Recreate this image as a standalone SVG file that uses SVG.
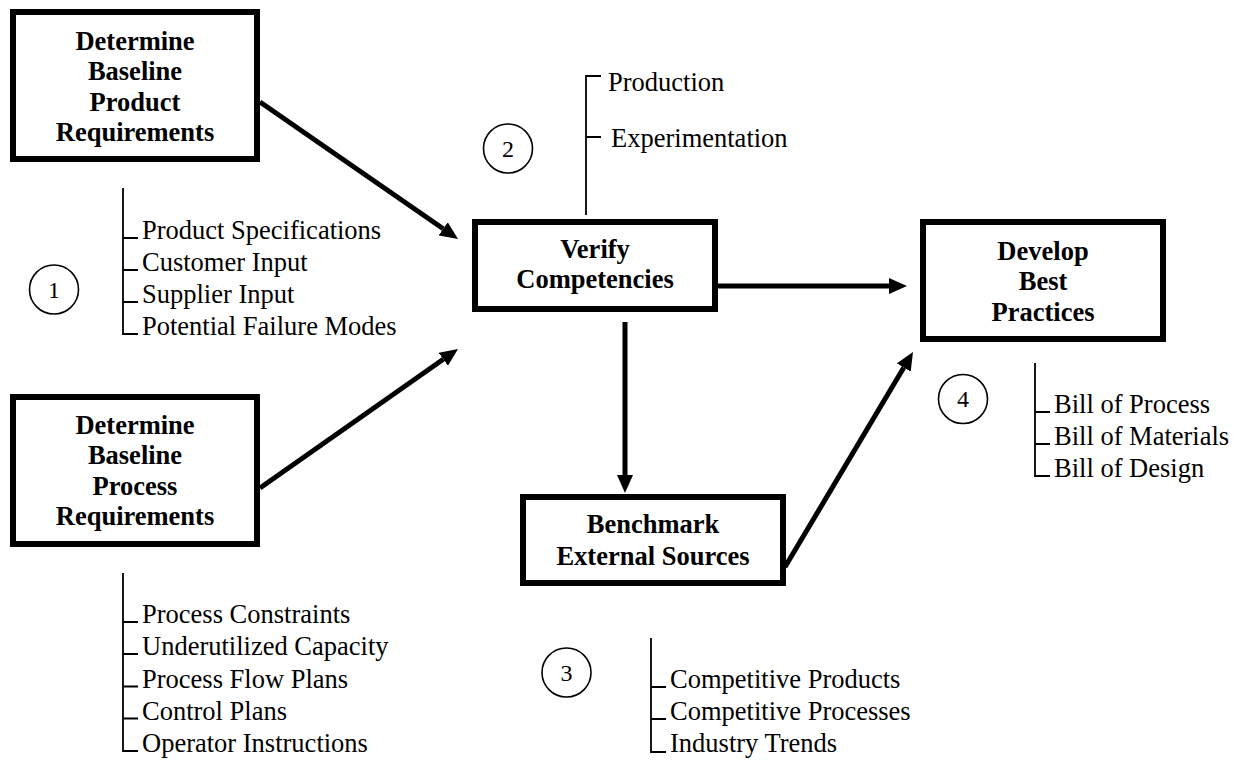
<svg xmlns="http://www.w3.org/2000/svg" width="1239" height="760" viewBox="0 0 1239 760">
<style>
.box{fill:#fff;stroke:#000;stroke-width:6}
.bt{font-family:"Liberation Serif","Times New Roman",serif;font-weight:bold;font-size:26.5px;text-anchor:middle;fill:#000}
.it{font-family:"Liberation Serif","Times New Roman",serif;font-size:26.5px;fill:#000}
.num{font-family:"Liberation Serif","Times New Roman",serif;font-size:24px;text-anchor:middle;fill:#000}
.circ{fill:none;stroke:#000;stroke-width:1.6}
.br{fill:none;stroke:#000;stroke-width:1.8}
.arr{stroke:#000;stroke-width:5;fill:none;marker-end:url(#ah)}
</style>
<defs>
<marker id="ah" markerUnits="userSpaceOnUse" markerWidth="18" markerHeight="16" refX="0" refY="8" orient="auto">
<path d="M0,0 L18,8 L0,16 z" fill="#000"/>
</marker>
</defs>
<rect width="1239" height="760" fill="#fff"/>
<g id="connectors">
<line class="arr" x1="260" y1="102" x2="443.2" y2="228.8"/>
<line class="arr" x1="260" y1="488" x2="443.3" y2="359.3"/>
<line class="arr" x1="718" y1="286" x2="889" y2="286"/>
<line class="arr" x1="625" y1="322" x2="625" y2="475"/>
<line class="arr" x1="785" y1="567" x2="903.8" y2="367.5"/>
</g>
<g id="node-product">
<rect class="box" x="13" y="12" width="244" height="147"/>
<text class="bt" x="135" y="49.5">Determine</text>
<text class="bt" x="135" y="80">Baseline</text>
<text class="bt" x="135" y="110.5">Product</text>
<text class="bt" x="135" y="141">Requirements</text>
</g>
<g id="node-process">
<rect class="box" x="13" y="397" width="244" height="147"/>
<text class="bt" x="135" y="433.5">Determine</text>
<text class="bt" x="135" y="464">Baseline</text>
<text class="bt" x="135" y="494.5">Process</text>
<text class="bt" x="135" y="525">Requirements</text>
</g>
<g id="node-verify">
<rect class="box" x="475" y="222" width="240" height="87"/>
<text class="bt" x="595" y="258">Verify</text>
<text class="bt" x="595" y="288">Competencies</text>
</g>
<g id="node-develop">
<rect class="box" x="923" y="222" width="240" height="117"/>
<text class="bt" x="1043" y="259.5">Develop</text>
<text class="bt" x="1043" y="290">Best</text>
<text class="bt" x="1043" y="320.5">Practices</text>
</g>
<g id="node-benchmark">
<rect class="box" x="523" y="497" width="260" height="86"/>
<text class="bt" x="653" y="533">Benchmark</text>
<text class="bt" x="653" y="565">External Sources</text>
</g>
<g id="step-1">
<circle class="circ" cx="54" cy="289.5" r="24.5"/>
<text class="num" x="54" y="297.5">1</text>
<path class="br" d="M123,188 V334 H138 M123,238 H138 M123,270 H138 M123,302 H138"/>
<text class="it" x="142" y="239">Product Specifications</text>
<text class="it" x="142" y="271">Customer Input</text>
<text class="it" x="142" y="303">Supplier Input</text>
<text class="it" x="142" y="335">Potential Failure Modes</text>
</g>
<g id="step-process-list">
<path class="br" d="M123,573 V751 H138 M123,622 H138 M123,654 H138 M123,686.5 H138 M123,718.5 H138"/>
<text class="it" x="142" y="623">Process Constraints</text>
<text class="it" x="142" y="655">Underutilized Capacity</text>
<text class="it" x="142" y="687.5">Process Flow Plans</text>
<text class="it" x="142" y="719.5">Control Plans</text>
<text class="it" x="142" y="752">Operator Instructions</text>
</g>
<g id="step-2">
<circle class="circ" cx="508" cy="148.5" r="24.5"/>
<text class="num" x="508" y="156.5">2</text>
<path class="br" d="M601,76 H586 V215 M586,137 H601"/>
<text class="it" x="608" y="91">Production</text>
<text class="it" x="611" y="147">Experimentation</text>
</g>
<g id="step-3">
<circle class="circ" cx="566.5" cy="672.5" r="24.5"/>
<text class="num" x="566.5" y="680.5">3</text>
<path class="br" d="M651,638 V752 H666 M651,687 H666 M651,719 H666"/>
<text class="it" x="670" y="688">Competitive Products</text>
<text class="it" x="670" y="720">Competitive Processes</text>
<text class="it" x="670" y="752">Industry Trends</text>
</g>
<g id="step-4">
<circle class="circ" cx="963" cy="399" r="24.5"/>
<text class="num" x="963" y="407">4</text>
<path class="br" d="M1035,363 V476 H1050 M1035,412 H1050 M1035,444 H1050"/>
<text class="it" x="1054" y="413">Bill of Process</text>
<text class="it" x="1054" y="445">Bill of Materials</text>
<text class="it" x="1054" y="477">Bill of Design</text>
</g>
</svg>
